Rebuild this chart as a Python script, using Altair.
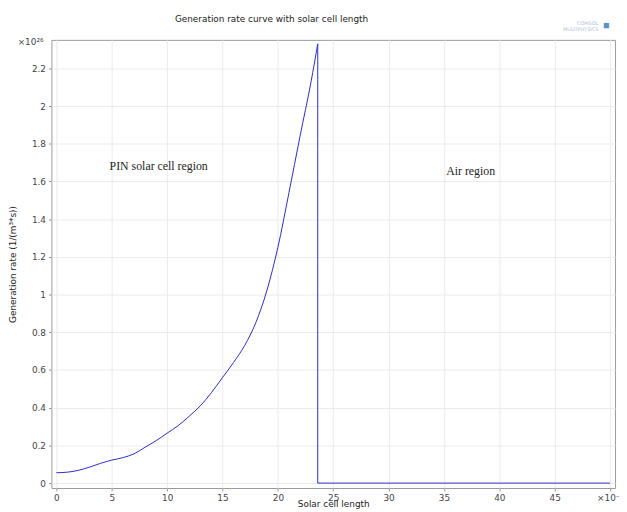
import altair as alt
import pandas as pd

# Solar cell length (x 1e-8) and generation rate (x 1e26) inside the PIN cell
cell_x = [0, 1, 2, 3, 4, 5, 6, 7, 8, 9, 10, 11, 12, 13, 14, 15, 16, 17, 18, 19, 20, 21, 22, 23, 23.6]
cell_y = [0.055, 0.058, 0.068, 0.085, 0.105, 0.122, 0.135, 0.155, 0.19, 0.225, 0.265, 0.305, 0.355, 0.41,
          0.48, 0.56, 0.64, 0.73, 0.85, 1.02, 1.25, 1.54, 1.84, 2.13, 2.33]
# Drop at the interface and the air region
air_x = [23.6, 23.6, 50]
air_y = [2.33, 0.0, 0.0]

ann_text = ["PIN solar cell region", "Air region"]
ann_x = [4.8, 35.2]
ann_y = [1.68, 1.655]

cell = pd.DataFrame({"x": cell_x, "y": cell_y})
air = pd.DataFrame({"x": air_x, "y": air_y, "i": list(range(len(air_x)))})
ann = pd.DataFrame({"t": ann_text, "x": ann_x, "y": ann_y})

xscale = alt.Scale(domain=[-0.45, 50.45], nice=False, zero=False)
yscale = alt.Scale(domain=[-0.026, 2.351], nice=False, zero=False)

xaxis = alt.Axis(values=list(range(0, 51, 5)), title="Solar cell length",
                 labelExpr="datum.value == 50 ? '×10⁻⁸' : datum.label",
                 labelFontSize=9, labelColor="#444", titleFontSize=9, titleColor="#222",
                 titleFontWeight="normal", titlePadding=-3, labelPadding=3,
                 tickSize=3, tickColor="#999", domain=False,
                 grid=True, gridColor="#ebebeb", labelFont="DejaVu Sans", titleFont="DejaVu Sans")
yaxis = alt.Axis(values=[round(0.2 * k, 1) for k in range(12)], format=".1~f",
                 title="Generation rate  (1/(m³*s))",
                 labelFontSize=9, labelColor="#444", titleFontSize=9, titleColor="#222",
                 titleFontWeight="normal", titlePadding=14, labelPadding=3,
                 tickSize=3, tickColor="#999", domain=False,
                 grid=True, gridColor="#ebebeb", labelFont="DejaVu Sans", titleFont="DejaVu Sans")

line_cell = alt.Chart(cell).mark_line(color="#2b2bd0", strokeWidth=1, interpolate="monotone").encode(
    x=alt.X("x:Q", scale=xscale, axis=xaxis),
    y=alt.Y("y:Q", scale=yscale, axis=yaxis),
)
line_air = alt.Chart(air).mark_line(color="#2b2bd0", strokeWidth=1).encode(
    x=alt.X("x:Q", scale=xscale),
    y=alt.Y("y:Q", scale=yscale),
    order="i:Q",
)

text = alt.Chart(ann).mark_text(align="left", baseline="middle", font="Liberation Serif",
                                fontSize=12, color="#222").encode(
    x=alt.X("x:Q", scale=xscale),
    y=alt.Y("y:Q", scale=yscale),
    text="t:N",
)

mult = alt.Chart(pd.DataFrame({"t": ["×10²⁶"]})).mark_text(
    align="right", baseline="middle", fontSize=9, color="#444", font="DejaVu Sans"
).encode(x=alt.value(-8), y=alt.value(2), text="t:N")

title = alt.Chart(pd.DataFrame({"t": ["Generation rate curve with solar cell length"]})).mark_text(
    align="center", baseline="middle", fontSize=9, color="#222", font="DejaVu Sans"
).encode(x=alt.value(223), y=alt.value(-21), text="t:N")

logo = alt.Chart(pd.DataFrame({"t": ["COMSOL", "MULTIPHYSICS"], "yy": [-17, -11]})).mark_text(
    align="right", baseline="middle", fontSize=5, color="#a9c0da", font="DejaVu Sans"
).encode(x=alt.value(554), y=alt.Y("yy:Q", scale=None), text="t:N")

cube = alt.Chart(pd.DataFrame({"t": ["■"]})).mark_text(
    align="center", baseline="middle", fontSize=11, color="#5b93c7"
).encode(x=alt.value(562), y=alt.value(-14), text="t:N")

chart = alt.layer(line_cell, line_air, text, mult, title, logo, cube).properties(
    width=571, height=454,
    autosize=alt.AutoSizeParams(type="none"),
    padding={"left": 44, "top": 29, "right": 4, "bottom": 20},
).configure_view(stroke="#999", strokeWidth=1)

chart.save("out.html", embed_options={"renderer": "svg", "actions": False})
